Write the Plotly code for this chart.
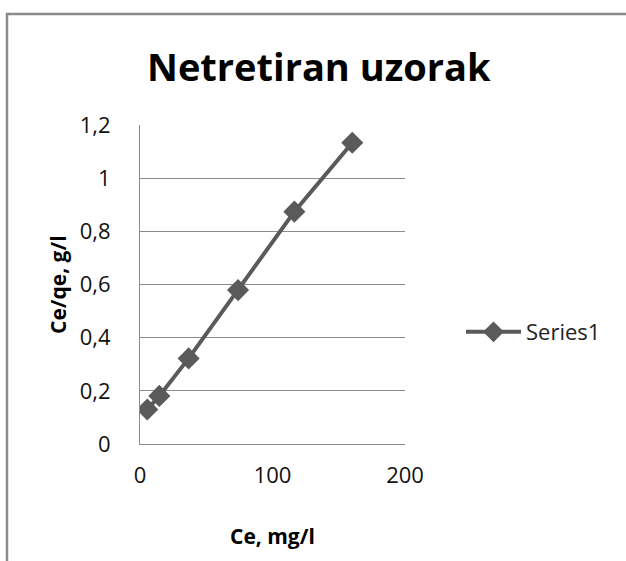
import plotly.graph_objects as go

# Data
ce = [5.5, 14.6, 36.7, 74.0, 116.5, 160.2]          # Ce, mg/l
ce_qe = [0.130, 0.181, 0.322, 0.579, 0.874, 1.133]   # Ce/qe, g/l
series_name = "Series1"

x_tickvals = [0, 100, 200]
x_ticktext = ["0", "100", "200"]
y_tickvals = [0, 0.2, 0.4, 0.6, 0.8, 1.0, 1.2]
y_ticktext = ["0", "0,2", "0,4", "0,6", "0,8", "1", "1,2"]

title_text = "Netretiran uzorak"
x_title = "Ce, mg/l"
y_title = "Ce/qe, g/l"

W, H = 626, 561
L, R, T, B = 140, 221, 125, 117
pw, ph = W - L - R, H - T - B

FONT = "Open Sans, Lato, sans-serif"
LINE_COLOR = "#5a5a5a"
GRID_COLOR = "#8c8c8c"

fig = go.Figure()
fig.add_trace(go.Scatter(
    x=ce, y=ce_qe, mode="lines+markers", name=series_name,
    line=dict(color=LINE_COLOR, width=4),
    marker=dict(symbol="diamond", size=17, color=LINE_COLOR),
))

def px_x(p):
    return (p - L) / pw

def px_y(p):
    return (H - B - p) / ph

fig.update_layout(
    width=W, height=H,
    margin=dict(l=L, r=R, t=T, b=B),
    paper_bgcolor="white", plot_bgcolor="white",
    font=dict(family=FONT, color="#000000", size=18),
    showlegend=True,
    legend=dict(
        x=px_x(461), y=px_y(332), xanchor="left", yanchor="middle",
        font=dict(family=FONT, size=22, color="#222222"),
        bgcolor="rgba(0,0,0,0)", itemwidth=55,
    ),
    xaxis=dict(
        range=[0, 200], tickvals=x_tickvals, ticktext=x_ticktext,
        showgrid=False, zeroline=False,
        showline=True, linecolor=GRID_COLOR, linewidth=1,
        ticks="", ticklabelstandoff=12,
        tickfont=dict(family=FONT, size=22, color="#111111"),
    ),
    yaxis=dict(
        range=[0, 1.2], tickvals=y_tickvals, ticktext=y_ticktext,
        showgrid=True, gridcolor=GRID_COLOR, gridwidth=1,
        zeroline=False,
        showline=True, linecolor=GRID_COLOR, linewidth=1,
        ticks="", ticklabelstandoff=24,
        tickfont=dict(family=FONT, size=22, color="#111111"),
    ),
    annotations=[
        dict(text="<b>" + title_text + "</b>", xref="paper", yref="paper",
             x=px_x(319), y=px_y(66), xanchor="center", yanchor="middle",
             showarrow=False, font=dict(family=FONT, size=38, color="#000000")),
        dict(text="<b>" + x_title + "</b>", xref="paper", yref="paper",
             x=px_x(272), y=px_y(536), xanchor="center", yanchor="middle",
             showarrow=False, font=dict(family=FONT, size=21, color="#000000")),
        dict(text="<b>" + y_title + "</b>", xref="paper", yref="paper",
             x=px_x(58), y=px_y(285), xanchor="center", yanchor="middle",
             textangle=-90,
             showarrow=False, font=dict(family=FONT, size=21, color="#000000")),
    ],
    shapes=[
        dict(type="rect", xref="paper", yref="paper",
             x0=px_x(7), x1=px_x(700), y0=px_y(700), y1=px_y(14),
             line=dict(color="#8a8a8a", width=2.5), fillcolor="rgba(0,0,0,0)",
             layer="below"),
    ],
)

fig.write_html(
    "out.html",
    config={"displayModeBar": False},
    post_script="document.body.style.margin='0px';",
)
